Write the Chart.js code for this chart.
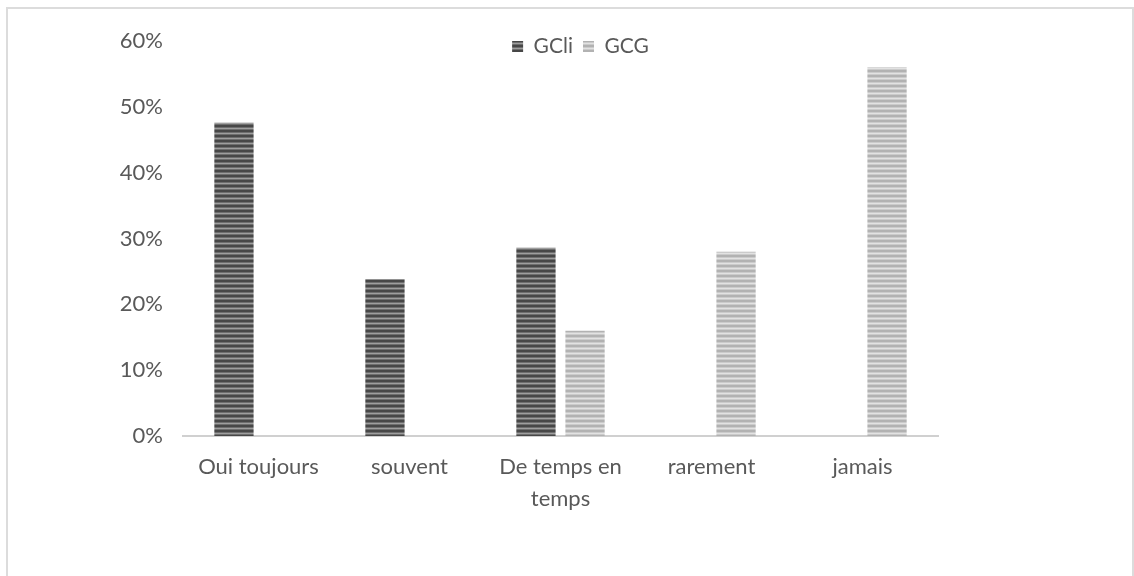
<!DOCTYPE html>
<html lang="fr">
<head>
<meta charset="utf-8">
<title>GCli / GCG</title>
<script src="https://cdn.jsdelivr.net/npm/chart.js@4.4.1/dist/chart.umd.min.js"></script>
<style>
  html, body { margin: 0; padding: 0; background: #fff; }
  #zone { position: absolute; left: 0; top: 0; width: 1134px; height: 576px; }
  #cadre { position: absolute; left: 6px; top: 7px; width: 1124px; height: 600px;
           border: 2px solid #dcdcdc; pointer-events: none; }
</style>
</head>
<body>
<div id="zone"><canvas id="graphique" width="1134" height="576"></canvas></div>
<div id="cadre"></div>
<script>
// Catégories et pourcentages par groupe
const categories = ['Oui toujours', 'souvent', ['De temps en', 'temps'], 'rarement', 'jamais'];
const valeursGCli = [47.6, 23.8, 28.6, 0, 0];
const valeursGCG = [0, 0, 16, 28, 56];
const maxY = 60;
const pasY = 10;

const gris = '#595959';
const police = { family: 'Lato, "Open Sans", sans-serif', size: 22 };

const canvas = document.getElementById('graphique');
const ctx = canvas.getContext('2d');

// motif de rayures horizontales pour le remplissage des barres
function rayures(couleurs) {
  const motif = document.createElement('canvas');
  motif.width = 4;
  motif.height = couleurs.length;
  const g = motif.getContext('2d');
  couleurs.forEach((c, i) => {
    g.fillStyle = c;
    g.fillRect(0, i, 4, 1);
  });
  return ctx.createPattern(motif, 'repeat');
}

const motifGCli = rayures(['#474747', '#474747', '#6e6e6e', '#9e9e9e', '#6e6e6e']);
const motifGCG = rayures(['#b2b2b2', '#b2b2b2', '#cbcbcb', '#e2e2e2', '#cbcbcb']);

// place la légende en haut, un peu à droite du centre, au-dessus des barres
const decalageLegende = {
  id: 'decalageLegende',
  afterLayout(chart) {
    const l = chart.legend;
    const h = l.bottom - l.top;
    l.left += 20;
    l.right += 20;
    l.top = 26;
    l.bottom = 26 + h;
  }
};

new Chart(ctx, {
  type: 'bar',
  data: {
    labels: categories,
    datasets: [
      {
        label: 'GCli',
        data: valeursGCli,
        backgroundColor: motifGCli,
        borderWidth: 0
      },
      {
        label: 'GCG',
        data: valeursGCG,
        backgroundColor: motifGCG,
        borderWidth: 0
      }
    ]
  },
  options: {
    responsive: false,
    animation: false,
    barPercentage: 0.8,
    categoryPercentage: 0.65,
    layout: { padding: { top: 0, right: 196, left: 0, bottom: 0 } },
    plugins: {
      tooltip: { enabled: false },
      legend: {
        position: 'top',
        fullSize: false,
        align: 'center',
        labels: {
          color: gris,
          font: { family: police.family, size: 21 },
          boxWidth: 11,
          boxHeight: 11,
          padding: 10
        }
      }
    },
    scales: {
      x: {
        grid: { display: false },
        border: { display: true, color: '#d0d0d0', width: 2 },
        ticks: {
          color: gris,
          font: { family: police.family, size: police.size, lineHeight: 1.45 },
          padding: 7,
          maxRotation: 0,
          autoSkip: false
        },
        afterFit: (s) => { s.height = 140; }
      },
      y: {
        min: 0,
        max: maxY,
        grid: { display: false },
        border: { display: false },
        ticks: {
          stepSize: pasY,
          color: gris,
          font: police,
          padding: 12,
          callback: (v) => v + '%'
        },
        afterFit: (s) => { s.width = 183; }
      }
    }
  },
  plugins: [decalageLegende]
});
</script>
</body>
</html>
